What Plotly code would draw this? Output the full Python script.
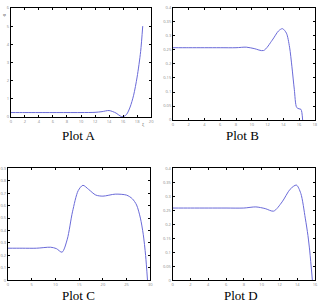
import plotly.graph_objects as go

# Plot A
a_x = [0, 2, 4, 6, 8, 10, 12, 13, 14, 15, 15.6, 16, 16.5, 17, 17.5, 18, 18.5, 18.8]
a_y = [0.25, 0.25, 0.25, 0.25, 0.25, 0.25, 0.26, 0.3, 0.36, 0.22, 0.06, 0.02, 0.15, 0.55, 1.2, 2.2, 3.6, 5.0]
# Plot B
b_x = [0, 2, 4, 6, 8, 9.3, 10.3, 11.5, 12.6, 13.4, 13.9, 14.4, 14.8, 15.1, 15.4, 15.7, 16.0, 16.25, 16.46]
b_y = [0.258, 0.258, 0.258, 0.258, 0.258, 0.26, 0.255, 0.248, 0.285, 0.318, 0.326, 0.31, 0.26, 0.19, 0.11, 0.045, 0.04, 0.038, 0.0]
# Plot C
c_x = [0, 3, 6, 9, 10.2, 11.4, 12.5, 13.6, 14.8, 15.8, 17, 18.5, 20, 22.6, 25, 26.2, 27.1, 27.9, 28.5, 29.0, 29.4]
c_y = [0.258, 0.258, 0.258, 0.266, 0.255, 0.226, 0.33, 0.55, 0.72, 0.763, 0.73, 0.685, 0.676, 0.692, 0.684, 0.655, 0.605, 0.50, 0.37, 0.2, 0.0]
# Plot D
d_x = [0, 2, 4, 6, 8, 9.35, 10.4, 11.35, 12.3, 13.2, 13.9, 14.4, 14.9, 15.2, 15.4, 15.7]
d_y = [0.258, 0.258, 0.258, 0.258, 0.258, 0.262, 0.256, 0.247, 0.28, 0.325, 0.34, 0.31, 0.222, 0.16, 0.105, 0.0]

a_ticks = list(range(0, 21, 2))
b_ticks = list(range(0, 19, 2))
c_ticks = list(range(0, 31, 5))
d_ticks = list(range(0, 17, 2))
a_yticks = [0, 1, 2, 3, 4, 5, 6]
bd_yticks = [0, 0.05, 0.1, 0.15, 0.2, 0.25, 0.3, 0.35, 0.4]
c_yticks = [0, 0.1, 0.2, 0.3, 0.4, 0.5, 0.6, 0.7, 0.8, 0.9]

titles = ["Plot A", "Plot B", "Plot C", "Plot D"]

W, H = 322, 304
boxes = [
    (9, 151.5, 5, 116),
    (173.7, 317.7, 5, 119),
    (6, 150.7, 168, 282),
    (173.3, 318, 168, 282),
]
series = [(a_x, a_y), (b_x, b_y), (c_x, c_y), (d_x, d_y)]
xr = [[0, 20], [0, 18], [0, 30], [0, 16]]
yr = [[0, 6], [0, 0.4], [0, 0.9], [0, 0.4]]
xt = [a_ticks, b_ticks, c_ticks, d_ticks]
yt = [a_yticks, bd_yticks, c_yticks, bd_yticks]

fig = go.Figure()
line_color = "#6a6ad8"
for i, (xs, ys) in enumerate(series):
    n = "" if i == 0 else str(i + 1)
    fig.add_trace(go.Scatter(x=xs, y=ys, mode="lines", xaxis="x" + n, yaxis="y" + n,
                             line=dict(color=line_color, width=1, shape="spline", smoothing=0.8),
                             showlegend=False, hoverinfo="skip"))
    x0, x1, y0, y1 = boxes[i]
    common = dict(showline=True, linecolor="black", linewidth=1, mirror="allticks",
                  ticks="inside", ticklen=2, tickwidth=0.7, tickcolor="black",
                  showgrid=False, zeroline=False, tickfont=dict(size=4, color="#888888"))
    fig.layout["xaxis" + n] = dict(domain=[x0 / W, x1 / W], range=xr[i], tickvals=xt[i],
                                   anchor="y" + n, **common)
    fig.layout["yaxis" + n] = dict(domain=[1 - y1 / H, 1 - y0 / H], range=yr[i], tickvals=yt[i],
                                   anchor="x" + n, **common)

title_pos = [(78, 135), (244, 135), (78, 297), (243, 297)]
for t, (px, py) in zip(titles, title_pos):
    fig.add_annotation(text=t, x=px / W, y=1 - py / H, xref="paper", yref="paper",
                       xanchor="center", yanchor="middle", showarrow=False,
                       font=dict(family="Liberation Serif", size=13, color="black"))

fig.add_annotation(text="φ", x=3 / W, y=1 - 12 / H, xref="paper", yref="paper", showarrow=False,
                   xanchor="center", yanchor="middle",
                   font=dict(family="Liberation Serif", size=5, color="#444444"))
fig.add_annotation(text="ξ", x=144 / W, y=1 - 124 / H, xref="paper", yref="paper", showarrow=False,
                   xanchor="center", yanchor="middle",
                   font=dict(family="Liberation Serif", size=5, color="#444444"))

fig.update_layout(width=W, height=H, margin=dict(l=0, r=0, t=0, b=0),
                  paper_bgcolor="white", plot_bgcolor="white")
fig.write_html("out.html")
